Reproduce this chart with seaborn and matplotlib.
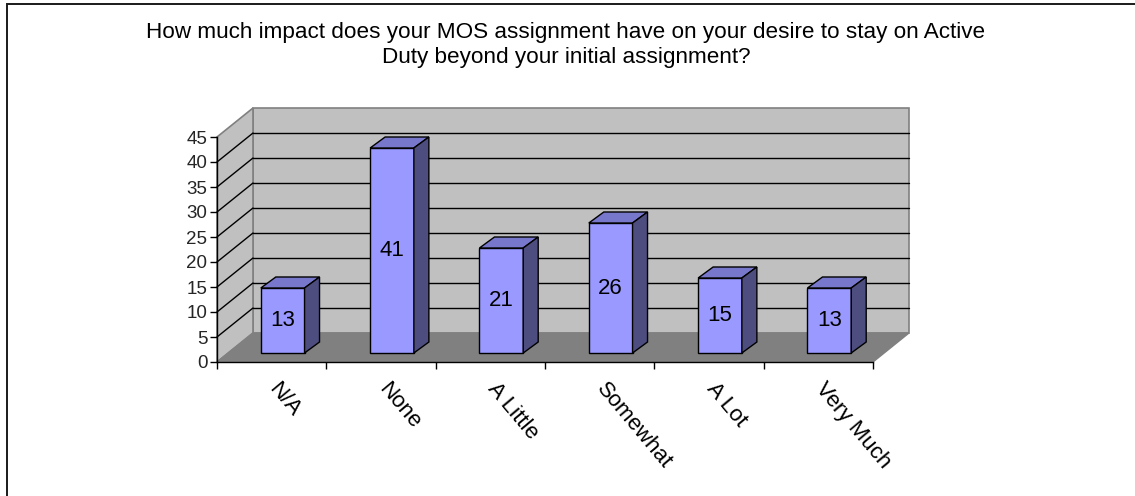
import matplotlib
matplotlib.use("Agg")
import matplotlib.pyplot as plt
import seaborn as sns
import pandas as pd
from matplotlib.patches import Polygon, Rectangle
from matplotlib.lines import Line2D
from matplotlib.transforms import offset_copy

# --- chart data -------------------------------------------------------------
categories = ["N/A", "None", "A Little", "Somewhat", "A Lot", "Very Much"]
counts = [13, 41, 21, 26, 15, 13]
y_ticks = [0, 5, 10, 15, 20, 25, 30, 35, 40, 45]
title = ("How much impact does your MOS assignment have on your desire to stay on Active\n"
         "Duty beyond your initial assignment?")

# --- colours ------------------------------------------------------------------
FRONT = "#9999FF"
TOP = "#7777CC"
SIDE = "#4D4D80"
WALL = "#C0C0C0"
FLOOR = "#808080"
EDGE_GREY = "#808080"

W, H, DPI = 1135, 496, 100
sns.set_theme(style="white")
plt.rcParams["font.family"] = ["Liberation Sans", "DejaVu Sans"]

fig = plt.figure(figsize=(W / DPI, H / DPI), dpi=DPI)
fig.patch.set_facecolor("white")

# front plane of the plot area (pixels)
px0, px1, pyb, pyt = 217, 873, 362, 137
ax = fig.add_axes([px0 / W, 1 - pyb / H, (px1 - px0) / W, (pyb - pyt) / H])
ax.patch.set_visible(False)

n = len(categories)
ymax = y_ticks[-1]
ppx = (px1 - px0) / n          # pixels per category
ppy = (pyb - pyt) / ymax       # pixels per unit

# oblique depth of the walls and of the bars, in data units
wdx, wdy = 36 / ppx, 29 / ppy
fdx, fdy = 11 / ppx, 9 / ppy       # bar front face offset from the front plane
bdx, bdy = 15 / ppx, 11 / ppy      # bar depth

df = pd.DataFrame({"response": categories, "count": counts})
sns.barplot(data=df, x="response", y="count", color=FRONT, saturation=1,
            width=0.4, edgecolor="black", linewidth=1.0, ax=ax, zorder=3)

ax.set_xlim(-0.5, n - 0.5)
ax.set_ylim(0, ymax)

# walls and floor
xl, xr = -0.5, n - 0.5
floor = Polygon([(xl, 0), (xr, 0), (xr + wdx, wdy), (xl + wdx, wdy)],
                closed=True, facecolor=FLOOR, edgecolor=EDGE_GREY, lw=1.0,
                zorder=0.5, clip_on=False)
back = Polygon([(xl + wdx, wdy), (xr + wdx, wdy), (xr + wdx, ymax + wdy), (xl + wdx, ymax + wdy)],
               closed=True, facecolor=WALL, edgecolor=EDGE_GREY, lw=1.2,
               zorder=0.4, clip_on=False)
side = Polygon([(xl, 0), (xl + wdx, wdy), (xl + wdx, ymax + wdy), (xl, ymax)],
               closed=True, facecolor=WALL, edgecolor=EDGE_GREY, lw=1.2,
               zorder=0.4, clip_on=False)
for p in (back, side, floor):
    ax.add_patch(p)

# gridlines on the back wall and the side wall
for v in y_ticks[1:-1]:
    ax.add_line(Line2D([xl + wdx, xr + wdx], [v + wdy, v + wdy], color="black",
                       lw=1.0, zorder=0.6, clip_on=False))
    ax.add_line(Line2D([xl, xl + wdx], [v, v + wdy], color="black",
                       lw=1.0, zorder=0.6, clip_on=False))

# give each bar its depth: shift the front face back, add top and side faces
for patch, val in zip(ax.patches[:n], counts):
    patch.set_x(patch.get_x() + fdx)
    patch.set_y(fdy)
    patch.set_clip_on(False)
    x0 = patch.get_x()
    x1 = x0 + patch.get_width()
    y0 = patch.get_y()
    y1 = y0 + patch.get_height()
    top = Polygon([(x0, y1), (x1, y1), (x1 + bdx, y1 + bdy), (x0 + bdx, y1 + bdy)],
                  closed=True, facecolor=TOP, edgecolor="black", lw=1.0,
                  zorder=3, clip_on=False)
    sidef = Polygon([(x1, y0), (x1 + bdx, y0 + bdy), (x1 + bdx, y1 + bdy), (x1, y1)],
                    closed=True, facecolor=SIDE, edgecolor="black", lw=1.0,
                    zorder=3, clip_on=False)
    ax.add_patch(top)
    ax.add_patch(sidef)
    ax.text((x0 + x1) / 2, y0 + val / 2, str(val), ha="center", va="center",
            fontsize=16, color="black", zorder=4)

# axes: front left and bottom edges
for s in ("top", "right"):
    ax.spines[s].set_visible(False)
for s in ("left", "bottom"):
    ax.spines[s].set_color("black")
    ax.spines[s].set_linewidth(1.0)
    ax.spines[s].set_zorder(2)

ax.set_yticks(y_ticks)
ax.set_yticklabels([str(v) for v in y_ticks], fontsize=13.5)
ax.tick_params(axis="y", direction="out", length=5, width=1, color="black", pad=2, left=True)

ax.set_xticks(range(n))
ax.set_xticklabels([])
ax.tick_params(axis="x", which="major", length=0)
ax.set_xticks([i - 0.5 for i in range(n + 1)], minor=True)
ax.tick_params(axis="x", which="minor", direction="out", length=5, width=1,
               color="black", bottom=True)
ax.set_xlabel("")
ax.set_ylabel("")

label_tf = offset_copy(ax.transData, fig=fig, x=9, y=-17, units="dots")
for i, cat in enumerate(categories):
    ax.text(i, 0, cat, rotation=-50, rotation_mode="anchor", ha="left", va="top",
            fontsize=16, color="black", transform=label_tf)

fig.text(566 / W, 1 - 45 / H, title, ha="center", va="center", fontsize=16.2,
         color="black", linespacing=1.3)

# chart frame
fig.add_artist(Rectangle((7 / W, -0.1), 1.5, 1.1 - 4 / H, transform=fig.transFigure,
                         fill=False, edgecolor="#1a1a1a", lw=1.4))

fig.savefig("out.png", dpi=DPI, facecolor="white")
